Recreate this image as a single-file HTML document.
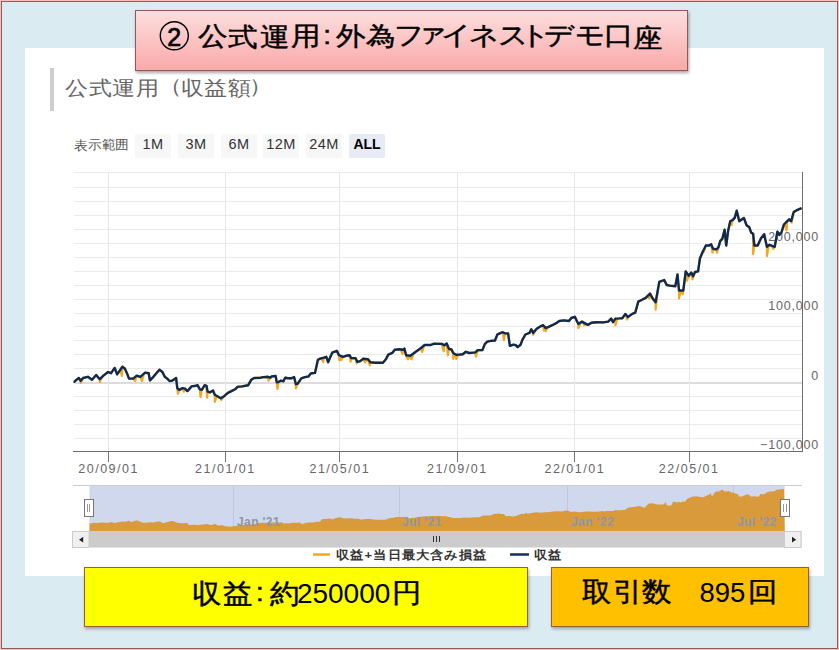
<!DOCTYPE html>
<html><head><meta charset="utf-8">
<style>
html,body{margin:0;padding:0;}
body{width:839px;height:650px;overflow:hidden;position:relative;font-family:"Liberation Sans",sans-serif;}
#frame{position:absolute;left:0;top:0;width:835px;height:646px;background:#daebf1;border:1px solid #8a5c5c;box-shadow:0 0 0 1px #f7c0bc;left:1px;top:1px;}
#panel{position:absolute;left:25px;top:48px;width:799px;height:528px;background:#fff;}
#title{position:absolute;left:135px;top:10px;width:551px;height:59px;border:1px solid #935858;background:linear-gradient(#fddede,#faa9a9);box-shadow:1px 2px 3px rgba(0,0,0,0.35);}
#title span{position:absolute;left:23px;top:9px;font-size:29px;color:#000;white-space:nowrap;}
#hbar{position:absolute;left:50px;top:68px;width:4px;height:43px;background:#cdcdcd;}
#htext{position:absolute;left:66px;top:74px;font-size:22px;color:#666;white-space:nowrap;}
#rlabelx{position:absolute;left:73px;top:136px;font-size:13.5px;color:#666;white-space:nowrap;}
.btn{position:absolute;top:134px;width:36px;height:24px;background:#f7f7f7;font-size:14.5px;color:#333;text-align:center;line-height:21px;border-radius:1px;letter-spacing:0.5px;}
.btn.sel{background:#e6ebf5;font-weight:bold;color:#000;letter-spacing:0;font-size:14px;}
svg{position:absolute;left:0;top:0;}
.ch{position:absolute;line-height:1;white-space:pre;transform-origin:0 0;font-family:"Liberation Sans",sans-serif;}
#ybox{position:absolute;left:84px;top:567px;width:442px;height:58px;background:#ffff00;border:1px solid #985f36;box-shadow:1px 2px 3px rgba(0,0,0,0.3);}
#obox{position:absolute;left:551px;top:567px;width:256px;height:58px;background:#ffc000;border:1px solid #985f36;box-shadow:1px 2px 3px rgba(0,0,0,0.3);}
.bt{position:absolute;top:9px;font-size:29px;color:#000;white-space:nowrap;}
</style></head><body>
<div id="frame"></div>
<div id="panel"></div>
<div id="hbar"></div>
<span class="ch" style="left:65.3px;top:78.0px;font-size:23.5px;font-weight:normal;color:#666;transform:scaleY(0.87);">公</span><span class="ch" style="left:88.5px;top:78.4px;font-size:23.5px;font-weight:normal;color:#666;transform:scaleY(0.87);">式</span><span class="ch" style="left:111.6px;top:78.4px;font-size:23.5px;font-weight:normal;color:#666;transform:scaleY(0.87);">運</span><span class="ch" style="left:136.1px;top:78.0px;font-size:23.5px;font-weight:normal;color:#666;transform:scaleY(0.87);">用</span><span class="ch" style="left:158.9px;top:76.2px;font-size:23.5px;font-weight:normal;color:#666;transform:scaleY(0.87);">（</span><span class="ch" style="left:180.9px;top:78.4px;font-size:23.5px;font-weight:normal;color:#666;transform:scaleY(0.87);">収</span><span class="ch" style="left:204.2px;top:78.0px;font-size:23.5px;font-weight:normal;color:#666;transform:scaleY(0.87);">益</span><span class="ch" style="left:227.6px;top:78.0px;font-size:23.5px;font-weight:normal;color:#666;transform:scaleY(0.87);">額</span><span class="ch" style="left:249.2px;top:76.2px;font-size:23.5px;font-weight:normal;color:#666;transform:scaleY(0.87);">）</span>
<span class="ch" style="left:74.0px;top:138.8px;font-size:14px;font-weight:normal;color:#555;transform:scaleY(0.95);">表</span><span class="ch" style="left:88.0px;top:138.3px;font-size:14px;font-weight:normal;color:#555;transform:scaleY(0.95);">示</span><span class="ch" style="left:101.5px;top:138.3px;font-size:14px;font-weight:normal;color:#555;transform:scaleY(0.95);">範</span><span class="ch" style="left:115.0px;top:138.3px;font-size:14px;font-weight:normal;color:#555;transform:scaleY(0.95);">囲</span>
<span class="ch" style="left:336.2px;top:548.8px;font-size:13px;font-weight:bold;color:#333;letter-spacing:1.2px;transform:scaleY(0.9)">収益+当日最大含み損益</span><span class="ch" style="left:533.6px;top:548.8px;font-size:13px;font-weight:bold;color:#333;letter-spacing:1.2px;transform:scaleY(0.9)">収益</span>
<div class="btn" style="left:135px">1M</div>
<div class="btn" style="left:178px">3M</div>
<div class="btn" style="left:221px">6M</div>
<div class="btn" style="left:263px">12M</div>
<div class="btn" style="left:306px">24M</div>
<div class="btn sel" style="left:349px">ALL</div>
<svg width="839" height="650" viewBox="0 0 839 650">
<g shape-rendering="crispEdges">
<line x1="73.5" y1="438.5" x2="802" y2="438.5" stroke="#ebebeb" stroke-width="1"/><line x1="73.5" y1="424.5" x2="802" y2="424.5" stroke="#ebebeb" stroke-width="1"/><line x1="73.5" y1="410.5" x2="802" y2="410.5" stroke="#ebebeb" stroke-width="1"/><line x1="73.5" y1="396.5" x2="802" y2="396.5" stroke="#ebebeb" stroke-width="1"/><line x1="73.5" y1="382.5" x2="802" y2="382.5" stroke="#dcdcdc" stroke-width="2"/><line x1="73.5" y1="368.5" x2="802" y2="368.5" stroke="#ebebeb" stroke-width="1"/><line x1="73.5" y1="354.5" x2="802" y2="354.5" stroke="#ebebeb" stroke-width="1"/><line x1="73.5" y1="340.5" x2="802" y2="340.5" stroke="#ebebeb" stroke-width="1"/><line x1="73.5" y1="326.5" x2="802" y2="326.5" stroke="#ebebeb" stroke-width="1"/><line x1="73.5" y1="313.5" x2="802" y2="313.5" stroke="#ebebeb" stroke-width="1"/><line x1="73.5" y1="299.5" x2="802" y2="299.5" stroke="#ebebeb" stroke-width="1"/><line x1="73.5" y1="285.5" x2="802" y2="285.5" stroke="#ebebeb" stroke-width="1"/><line x1="73.5" y1="271.5" x2="802" y2="271.5" stroke="#ebebeb" stroke-width="1"/><line x1="73.5" y1="257.5" x2="802" y2="257.5" stroke="#ebebeb" stroke-width="1"/><line x1="73.5" y1="243.5" x2="802" y2="243.5" stroke="#ebebeb" stroke-width="1"/><line x1="73.5" y1="229.5" x2="802" y2="229.5" stroke="#ebebeb" stroke-width="1"/><line x1="73.5" y1="215.5" x2="802" y2="215.5" stroke="#ebebeb" stroke-width="1"/><line x1="73.5" y1="201.5" x2="802" y2="201.5" stroke="#ebebeb" stroke-width="1"/><line x1="73.5" y1="187.5" x2="802" y2="187.5" stroke="#ebebeb" stroke-width="1"/><line x1="73.5" y1="172.5" x2="802" y2="172.5" stroke="#ebebeb" stroke-width="1"/>
<line x1="108.5" y1="172" x2="108.5" y2="451" stroke="#e6e6e6" stroke-width="1"/><line x1="108.5" y1="451" x2="108.5" y2="462" stroke="#777" stroke-width="1"/><line x1="225.5" y1="172" x2="225.5" y2="451" stroke="#e6e6e6" stroke-width="1"/><line x1="225.5" y1="451" x2="225.5" y2="462" stroke="#777" stroke-width="1"/><line x1="339.5" y1="172" x2="339.5" y2="451" stroke="#e6e6e6" stroke-width="1"/><line x1="339.5" y1="451" x2="339.5" y2="462" stroke="#777" stroke-width="1"/><line x1="457.5" y1="172" x2="457.5" y2="451" stroke="#e6e6e6" stroke-width="1"/><line x1="457.5" y1="451" x2="457.5" y2="462" stroke="#777" stroke-width="1"/><line x1="574.5" y1="172" x2="574.5" y2="451" stroke="#e6e6e6" stroke-width="1"/><line x1="574.5" y1="451" x2="574.5" y2="462" stroke="#777" stroke-width="1"/><line x1="689.5" y1="172" x2="689.5" y2="451" stroke="#e6e6e6" stroke-width="1"/><line x1="689.5" y1="451" x2="689.5" y2="462" stroke="#777" stroke-width="1"/>
<line x1="73" y1="451.5" x2="802" y2="451.5" stroke="#6e6e6e" stroke-width="1"/>
<line x1="802.5" y1="172" x2="802.5" y2="452" stroke="#6e6e6e" stroke-width="1"/>
</g>
<g font-family="Liberation Sans" font-size="12.5" fill="#666" letter-spacing="1.5">
<text x="108.6" y="472.5" text-anchor="middle">20/09/01</text><text x="225.4" y="472.5" text-anchor="middle">21/01/01</text><text x="339.8" y="472.5" text-anchor="middle">21/05/01</text><text x="457.3" y="472.5" text-anchor="middle">21/09/01</text><text x="574.8" y="472.5" text-anchor="middle">22/01/01</text><text x="689.2" y="472.5" text-anchor="middle">22/05/01</text>
</g>
<g font-family="Liberation Sans" font-size="12.5" fill="#666" letter-spacing="0.8">
<text x="819" y="241" text-anchor="end">200,000</text>
<text x="819" y="310" text-anchor="end">100,000</text>
<text x="819" y="380" text-anchor="end">0</text>
<text x="819" y="449" text-anchor="end">&#8722;100,000</text>
</g>
<path d="M73.6 382.0 L74.2 381.9 L77.2 379.2 L78.9 378.0 L78.9 378.5 L80.7 380.8 L80.7 383.0 L82.5 379.2 L83.1 378.0 L87.9 376.8 L92.0 379.8 L96.2 375.0 L98.0 377.6 L99.8 379.2 L99.8 382.0 L101.6 377.9 L103.4 375.6 L108.1 372.0 L111.1 373.2 L114.7 367.9 L117.1 374.4 L120.2 370.4 L122.0 376.0 L122.4 366.7 L123.8 368.2 L124.8 368.5 L127.2 373.8 L129.0 378.6 L133.2 378.6 L133.2 379.1 L135.0 381.0 L136.7 375.6 L136.8 376.1 L140.2 377.3 L140.3 376.8 L142.0 381.0 L143.8 374.2 L145.1 372.6 L148.7 373.2 L149.9 380.4 L153.4 376.8 L159.4 369.7 L162.4 372.0 L164.8 376.8 L167.2 378.6 L169.5 381.0 L171.9 380.8 L174.3 379.2 L176.1 378.0 L176.1 378.5 L177.3 388.1 L177.9 394.0 L179.1 389.9 L179.7 390.1 L182.0 388.9 L182.6 388.1 L183.8 391.7 L185.0 388.7 L185.6 389.8 L187.4 391.1 L191.6 386.4 L195.8 385.8 L197.5 385.2 L198.7 387.8 L199.9 389.3 L200.5 397.0 L201.7 389.9 L202.3 389.5 L204.7 385.2 L205.2 385.9 L206.5 385.8 L207.0 397.7 L207.7 391.7 L208.8 392.5 L210.1 392.3 L213.0 390.5 L213.0 391.0 L214.8 394.7 L214.8 401.8 L216.6 396.3 L217.8 396.5 L219.6 398.1 L220.8 398.3 L221.4 400.0 L223.2 397.2 L224.4 395.9 L227.9 392.9 L231.5 391.1 L235.1 389.3 L237.5 386.9 L242.2 386.4 L248.2 385.2 L251.2 379.8 L254.2 378.0 L260.7 377.7 L263.1 377.1 L266.7 377.4 L267.9 376.8 L268.5 380.7 L270.3 377.7 L270.3 378.2 L271.5 376.5 L275.6 376.4 L275.6 375.9 L276.8 382.4 L277.4 389.0 L278.6 381.8 L279.2 382.0 L281.0 380.7 L283.4 381.3 L285.2 377.7 L288.1 378.3 L291.1 378.3 L294.1 377.6 L294.1 377.1 L295.9 384.2 L295.9 388.4 L297.7 383.6 L297.7 384.1 L301.3 378.3 L304.8 377.1 L308.4 376.5 L310.8 373.5 L315.0 372.9 L317.9 359.8 L320.3 358.6 L321.5 358.8 L323.3 362.0 L323.9 357.7 L325.1 357.8 L326.3 356.8 L328.1 362.2 L332.2 352.6 L337.0 350.9 L337.6 352.8 L338.8 355.0 L339.4 360.4 L339.4 355.8 L341.2 356.5 L341.2 360.0 L343.0 356.8 L343.0 357.3 L346.0 355.8 L348.9 355.8 L349.5 355.2 L350.7 361.7 L351.3 358.1 L352.5 358.6 L354.9 358.6 L355.5 358.1 L356.7 363.5 L357.3 361.7 L358.5 362.0 L360.3 361.1 L363.2 358.7 L363.2 359.2 L365.0 362.3 L366.8 359.7 L368.0 359.3 L368.0 359.8 L369.8 365.3 L370.4 362.3 L371.6 362.9 L375.8 362.7 L382.9 362.7 L385.9 359.3 L388.3 354.6 L392.4 352.8 L394.8 349.8 L399.6 349.2 L400.8 349.9 L402.6 354.0 L403.2 349.8 L404.4 348.6 L404.4 349.1 L406.1 355.2 L406.2 355.7 L408.0 359.3 L409.7 356.2 L409.8 356.2 L410.3 355.8 L411.5 359.3 L413.3 354.1 L415.1 352.2 L420.4 348.9 L421.0 348.0 L422.2 352.2 L424.0 346.0 L424.6 345.0 L430.6 345.0 L433.6 343.8 L441.9 343.9 L441.9 344.4 L443.7 351.3 L444.3 345.3 L445.5 344.9 L446.1 344.5 L446.7 343.5 L447.9 355.4 L449.1 348.9 L449.7 349.5 L451.4 350.0 L451.5 349.5 L453.2 353.0 L453.2 359.0 L454.4 354.2 L455.0 354.6 L456.2 354.8 L456.2 359.0 L458.0 355.2 L459.8 354.6 L462.8 354.2 L465.8 351.8 L469.3 353.0 L474.1 353.0 L475.3 352.4 L475.9 356.6 L477.7 350.1 L477.7 350.6 L482.4 350.1 L484.8 344.1 L487.2 341.7 L490.8 340.9 L495.0 340.5 L497.3 334.6 L500.3 333.1 L502.1 332.9 L502.7 332.2 L503.9 340.0 L505.1 333.4 L505.7 333.9 L508.1 333.4 L509.9 345.9 L513.4 344.7 L515.8 345.1 L517.6 347.1 L520.6 344.7 L522.4 339.9 L525.4 334.5 L529.5 332.9 L531.3 329.3 L531.3 329.8 L533.1 332.9 L533.1 334.7 L534.9 331.3 L536.7 328.7 L540.3 326.4 L542.0 326.2 L543.2 325.2 L543.8 330.5 L543.8 326.4 L545.6 328.6 L545.6 328.1 L545.6 331.1 L547.4 327.9 L548.6 326.9 L552.2 325.2 L555.8 323.4 L559.3 321.0 L564.1 320.4 L568.9 321.0 L571.3 318.0 L574.8 316.8 L576.6 320.9 L578.4 324.0 L578.4 328.1 L580.2 323.3 L582.0 321.6 L582.6 322.5 L584.4 325.2 L585.0 323.4 L586.2 324.5 L587.9 324.9 L591.5 322.8 L596.3 322.2 L603.4 322.4 L608.2 321.6 L611.2 318.6 L613.0 322.2 L613.6 321.8 L615.4 318.6 L615.4 325.2 L617.2 319.0 L619.5 318.4 L622.3 318.2 L625.4 313.9 L625.4 314.4 L627.2 319.5 L627.9 317.0 L629.0 316.7 L632.2 313.9 L635.2 312.7 L638.3 301.6 L642.0 299.7 L645.7 297.9 L647.6 296.5 L649.4 298.5 L650.0 293.6 L651.2 296.2 L653.1 299.1 L653.8 300.5 L655.6 302.2 L655.6 309.6 L657.4 292.8 L659.3 281.9 L664.2 280.0 L666.7 285.0 L669.7 285.6 L675.3 286.2 L677.2 276.6 L677.5 274.5 L679.0 290.5 L679.0 298.5 L680.8 291.0 L680.9 291.0 L682.7 294.2 L683.3 290.5 L684.5 281.4 L685.2 275.9 L685.7 271.4 L687.0 280.6 L688.8 275.7 L688.8 276.2 L690.7 273.8 L691.3 272.6 L692.5 279.4 L693.1 276.3 L694.3 274.1 L695.0 272.0 L698.1 271.4 L699.9 258.5 L701.8 254.4 L702.6 252.0 L703.6 252.3 L705.4 247.0 L705.9 245.5 L709.2 245.5 L710.7 245.0 L711.1 244.2 L712.5 252.7 L713.1 248.8 L714.3 249.5 L715.2 249.7 L716.4 249.4 L717.0 252.7 L718.4 247.4 L718.8 246.5 L720.3 240.9 L722.3 238.9 L724.6 229.7 L726.2 245.5 L728.2 230.4 L729.7 224.0 L730.2 221.2 L731.5 225.2 L732.8 219.9 L733.3 219.9 L734.7 217.9 L736.7 210.7 L739.3 221.2 L742.0 219.3 L743.9 218.0 L746.5 225.2 L749.2 227.1 L751.1 232.4 L751.3 233.0 L753.1 233.7 L753.1 254.0 L754.4 245.5 L754.9 246.0 L757.7 245.5 L761.0 238.3 L764.2 234.3 L765.1 239.0 L766.9 246.8 L766.9 256.0 L768.7 245.9 L769.5 244.8 L771.6 246.1 L773.4 248.8 L774.7 246.8 L775.2 244.5 L777.4 231.7 L779.3 235.0 L781.3 233.0 L783.9 224.5 L784.7 224.2 L786.5 230.4 L787.2 221.2 L788.3 220.7 L789.2 219.3 L790.0 220.6 L791.1 221.2 L791.8 222.5 L793.6 212.9 L793.7 212.0 L797.0 210.1 L801.6 208.1" fill="none" stroke="#f5a623" stroke-width="2.2" stroke-linejoin="round"/>
<path d="M73.6 382.0 L74.2 381.9 L77.2 379.2 L78.9 378.0 L80.7 380.8 L83.1 378.0 L87.9 376.8 L92.0 379.8 L96.2 375.0 L99.8 379.2 L103.4 375.6 L108.1 372.0 L111.1 373.2 L114.7 367.9 L117.1 374.4 L122.4 366.7 L124.8 368.5 L127.2 373.8 L129.0 378.6 L133.2 378.6 L136.7 375.6 L140.3 376.8 L145.1 372.6 L148.7 373.2 L149.9 380.4 L153.4 376.8 L159.4 369.7 L162.4 372.0 L164.8 376.8 L167.2 378.6 L169.5 381.0 L171.9 380.8 L174.3 379.2 L176.1 378.0 L177.3 388.1 L179.1 389.9 L182.6 388.1 L185.0 388.7 L187.4 391.1 L191.6 386.4 L195.8 385.8 L197.5 385.2 L199.9 389.3 L201.7 389.9 L204.7 385.2 L206.5 385.8 L207.7 391.7 L210.1 392.3 L213.0 390.5 L214.8 394.7 L217.8 396.5 L220.8 398.3 L224.4 395.9 L227.9 392.9 L231.5 391.1 L235.1 389.3 L237.5 386.9 L242.2 386.4 L248.2 385.2 L251.2 379.8 L254.2 378.0 L260.7 377.7 L263.1 377.1 L267.9 376.8 L270.3 377.7 L271.5 376.5 L275.6 375.9 L276.8 382.4 L278.6 381.8 L281.0 380.7 L283.4 381.3 L285.2 377.7 L288.1 378.3 L291.1 378.3 L294.1 377.1 L295.9 384.2 L297.7 383.6 L301.3 378.3 L304.8 377.1 L308.4 376.5 L310.8 373.5 L315.0 372.9 L317.9 359.8 L320.3 358.6 L323.9 357.7 L326.3 356.8 L328.1 362.2 L332.2 352.6 L337.0 350.9 L338.8 355.0 L343.0 356.8 L346.0 355.8 L349.5 355.2 L351.3 358.1 L355.5 358.1 L357.3 361.7 L360.3 361.1 L363.2 358.7 L368.0 359.3 L370.4 362.3 L375.8 362.7 L382.9 362.7 L385.9 359.3 L388.3 354.6 L392.4 352.8 L394.8 349.8 L399.6 349.2 L403.2 349.8 L404.4 348.6 L406.1 355.2 L410.3 355.8 L415.1 352.2 L421.0 348.0 L424.6 345.0 L430.6 345.0 L433.6 343.8 L441.9 343.9 L444.3 345.3 L446.7 343.5 L449.1 348.9 L451.5 349.5 L453.2 353.0 L456.2 354.8 L459.8 354.6 L462.8 354.2 L465.8 351.8 L469.3 353.0 L475.3 352.4 L477.7 350.1 L482.4 350.1 L484.8 344.1 L487.2 341.7 L490.8 340.9 L495.0 340.5 L497.3 334.6 L500.3 333.1 L502.7 332.2 L505.1 333.4 L508.1 333.4 L509.9 345.9 L513.4 344.7 L515.8 345.1 L517.6 347.1 L520.6 344.7 L522.4 339.9 L525.4 334.5 L529.5 332.9 L531.3 329.3 L533.1 332.9 L536.7 328.7 L540.3 326.4 L543.2 325.2 L545.6 328.1 L548.6 326.9 L552.2 325.2 L555.8 323.4 L559.3 321.0 L564.1 320.4 L568.9 321.0 L571.3 318.0 L574.8 316.8 L578.4 324.0 L582.0 321.6 L585.0 323.4 L587.9 324.9 L591.5 322.8 L596.3 322.2 L603.4 322.4 L608.2 321.6 L611.2 318.6 L613.0 322.2 L615.4 318.6 L619.5 318.4 L622.3 318.2 L625.4 313.9 L627.9 317.0 L632.2 313.9 L635.2 312.7 L638.3 301.6 L642.0 299.7 L645.7 297.9 L650.0 293.6 L653.1 299.1 L655.6 302.2 L659.3 281.9 L664.2 280.0 L666.7 285.0 L669.7 285.6 L675.3 286.2 L677.5 274.5 L679.0 290.5 L683.3 290.5 L685.7 271.4 L688.8 275.7 L691.3 272.6 L693.1 276.3 L695.0 272.0 L698.1 271.4 L699.9 258.5 L702.6 252.0 L705.9 245.5 L709.2 245.5 L711.1 244.2 L713.1 248.8 L716.4 249.4 L718.4 247.4 L720.3 240.9 L722.3 238.9 L724.6 229.7 L726.2 245.5 L728.2 230.4 L730.2 221.2 L732.8 219.9 L734.7 217.9 L736.7 210.7 L739.3 221.2 L742.0 219.3 L743.9 218.0 L746.5 225.2 L749.2 227.1 L751.1 232.4 L753.1 233.7 L754.4 245.5 L757.7 245.5 L761.0 238.3 L764.2 234.3 L766.9 246.8 L769.5 244.8 L774.7 246.8 L777.4 231.7 L779.3 235.0 L781.3 233.0 L783.9 224.5 L787.2 221.2 L789.2 219.3 L791.1 221.2 L793.7 212.0 L797.0 210.1 L801.6 208.1" fill="none" stroke="#0f2a4f" stroke-width="2.4" stroke-linejoin="round"/>
<!-- navigator -->
<rect x="89.5" y="486" width="695.2" height="45" fill="#cfd8ec"/>
<g shape-rendering="crispEdges">
<line x1="233.5" y1="486" x2="233.5" y2="531" stroke="#c0c7da"/>
<line x1="399.5" y1="486" x2="399.5" y2="531" stroke="#c0c7da"/>
<line x1="567.5" y1="486" x2="567.5" y2="531" stroke="#c0c7da"/>
<line x1="733.5" y1="486" x2="733.5" y2="531" stroke="#c0c7da"/>
<line x1="73" y1="485.5" x2="801.5" y2="485.5" stroke="#cccccc"/>
</g>
<path d="M89.5 531 L89.5 523.5 L90.1 523.5 L92.9 523.0 L94.6 522.7 L96.3 523.3 L98.6 522.7 L103.1 522.5 L107.1 523.1 L111.1 522.1 L114.5 523.0 L117.9 522.2 L122.4 521.5 L125.3 521.8 L128.7 520.7 L131.0 522.0 L136.1 520.5 L138.3 520.8 L140.6 521.9 L142.4 522.8 L146.4 522.8 L149.7 522.2 L153.1 522.5 L157.7 521.6 L161.1 521.8 L162.3 523.2 L165.6 522.5 L171.4 521.1 L174.2 521.5 L176.5 522.5 L178.8 522.8 L181.0 523.3 L183.3 523.3 L185.6 523.0 L187.3 522.7 L188.4 524.7 L190.1 525.1 L193.5 524.7 L195.8 524.8 L198.1 525.3 L202.1 524.4 L206.1 524.3 L207.7 524.1 L210.0 525.0 L211.7 525.1 L214.6 524.1 L216.3 524.3 L217.4 525.4 L219.7 525.6 L222.5 525.2 L224.2 526.0 L227.1 526.4 L229.9 526.7 L233.4 526.3 L236.7 525.7 L240.1 525.3 L243.6 525.0 L245.9 524.5 L250.3 524.4 L256.1 524.1 L258.9 523.1 L261.8 522.7 L268.0 522.7 L270.3 522.5 L274.9 522.5 L277.2 522.7 L278.3 522.4 L282.2 522.3 L283.4 523.6 L285.1 523.5 L287.4 523.2 L289.6 523.4 L291.4 522.7 L294.1 522.8 L297.0 522.8 L299.9 522.5 L301.6 523.9 L303.3 523.8 L306.7 522.8 L310.1 522.5 L313.5 522.4 L315.8 521.8 L319.8 521.7 L322.6 519.1 L324.9 518.9 L328.3 518.7 L330.6 518.5 L332.3 519.6 L336.2 517.7 L340.8 517.3 L342.5 518.2 L346.5 518.5 L349.4 518.3 L352.7 518.2 L354.4 518.8 L358.4 518.8 L360.1 519.5 L363.0 519.4 L365.8 518.9 L370.4 519.0 L372.6 519.6 L377.8 519.7 L384.6 519.7 L387.4 519.0 L389.7 518.1 L393.6 517.7 L395.9 517.1 L400.5 517.0 L403.9 517.1 L405.1 516.9 L406.7 518.2 L410.7 518.3 L415.3 517.6 L420.9 516.8 L424.4 516.2 L430.1 516.2 L432.9 515.9 L440.9 516.0 L443.1 516.2 L445.4 515.9 L447.7 516.9 L450.0 517.1 L451.6 517.8 L454.5 518.1 L457.9 518.1 L460.8 518.0 L463.7 517.5 L467.0 517.8 L472.7 517.6 L475.0 517.2 L479.5 517.2 L481.8 516.0 L484.1 515.5 L487.5 515.4 L491.5 515.3 L493.7 514.1 L496.6 513.8 L498.9 513.6 L501.2 513.9 L504.0 513.9 L505.7 516.3 L509.1 516.1 L511.4 516.2 L513.1 516.6 L515.9 516.1 L517.7 515.2 L520.5 514.1 L524.4 513.8 L526.1 513.1 L527.9 513.8 L531.3 512.9 L534.7 512.5 L537.5 512.2 L539.8 512.8 L542.6 512.6 L546.1 512.2 L549.5 511.9 L552.9 511.4 L557.4 511.3 L562.0 511.4 L564.3 510.8 L567.6 510.6 L571.1 512.0 L574.5 511.5 L577.4 511.9 L580.1 512.2 L583.6 511.8 L588.2 511.6 L594.9 511.7 L599.5 511.5 L602.4 510.9 L604.1 511.6 L606.4 510.9 L610.3 510.9 L613.0 510.9 L615.9 510.0 L618.3 510.6 L622.4 510.0 L625.3 509.8 L628.2 507.6 L631.8 507.2 L635.3 506.8 L639.4 506.0 L642.3 507.1 L644.7 507.7 L648.3 503.7 L652.9 503.3 L655.3 504.3 L658.2 504.4 L663.5 504.5 L665.6 502.2 L667.1 505.4 L671.2 505.4 L673.4 501.6 L676.4 502.4 L678.8 501.8 L680.5 502.5 L682.3 501.7 L685.3 501.6 L687.0 499.0 L689.6 497.7 L692.7 496.4 L695.9 496.4 L697.7 496.2 L699.6 497.1 L702.7 497.2 L704.6 496.8 L706.5 495.5 L708.4 495.1 L710.6 493.3 L712.1 496.4 L714.0 493.4 L715.9 491.6 L718.4 491.4 L720.2 491.0 L722.1 489.5 L724.6 491.6 L727.2 491.2 L729.0 491.0 L731.4 492.4 L734.0 492.8 L735.8 493.8 L737.7 494.1 L739.0 496.4 L742.1 496.4 L745.3 495.0 L748.3 494.2 L750.9 496.7 L753.4 496.3 L758.3 496.7 L760.9 493.7 L762.7 494.4 L764.6 494.0 L767.1 492.3 L770.3 491.6 L772.2 491.2 L774.0 491.6 L776.5 489.8 L779.6 489.4 L784.0 489.0 L784.7 531 Z" fill="#d89a3a"/>
<g font-family="Liberation Sans" font-size="12" font-weight="bold" fill="#8f96a6" letter-spacing="0.4">
<text x="237" y="526">Jan '21</text>
<text x="402" y="526">Jul '21</text>
<text x="571" y="526">Jan '22</text>
<text x="737" y="526">Jul '22</text>
</g>
<!-- scrollbar -->
<rect x="72.5" y="531" width="729" height="16.5" fill="#cccccc"/>
<rect x="72.5" y="531.5" width="16.5" height="16" fill="#f0f0f0" stroke="#cccccc"/>
<rect x="784.5" y="531.5" width="16.5" height="16" fill="#f0f0f0" stroke="#cccccc"/>
<path d="M79 539.7 L83.2 536.8 L83.2 542.6 Z" fill="#222"/>
<path d="M796.2 539.7 L792 536.8 L792 542.6 Z" fill="#222"/>
<g stroke="#333" stroke-width="1" shape-rendering="crispEdges">
<line x1="433.5" y1="536" x2="433.5" y2="542"/><line x1="436.5" y1="536" x2="436.5" y2="542"/><line x1="439.5" y1="536" x2="439.5" y2="542"/>
</g>
<!-- handles -->
<rect x="84.5" y="499.5" width="9" height="17" fill="#fff" stroke="#777"/>
<g shape-rendering="crispEdges"><line x1="87.5" y1="504" x2="87.5" y2="512" stroke="#999"/><line x1="89.5" y1="504" x2="89.5" y2="512" stroke="#999"/></g>
<rect x="780.5" y="499.5" width="9" height="17" fill="#fff" stroke="#777"/>
<g shape-rendering="crispEdges"><line x1="783.5" y1="504" x2="783.5" y2="512" stroke="#999"/><line x1="786.5" y1="504" x2="786.5" y2="512" stroke="#999"/></g>
<!-- legend -->
<line x1="313" y1="554.5" x2="330" y2="554.5" stroke="#f5a623" stroke-width="2.5"/>

<line x1="510" y1="554.5" x2="529" y2="554.5" stroke="#12325a" stroke-width="2.5"/>

</svg>
<div id="title"></div>
<svg width="839" height="650" style="position:absolute;left:0;top:0"><circle cx="174.3" cy="35.75" r="14" fill="none" stroke="#000" stroke-width="1.4"/><text x="174.3" y="45.5" text-anchor="middle" font-family="Liberation Sans" font-size="25" fill="#000" stroke="#000" stroke-width="0.7">2</text></svg><span class="ch" style="left:197.9px;top:23.2px;font-size:29.5px;font-weight:normal;color:#000;transform:scaleY(0.88);-webkit-text-stroke:0.5px #000;">公</span><span class="ch" style="left:228.0px;top:23.7px;font-size:29.5px;font-weight:normal;color:#000;transform:scaleY(0.88);-webkit-text-stroke:0.5px #000;">式</span><span class="ch" style="left:260.0px;top:23.7px;font-size:29.5px;font-weight:normal;color:#000;transform:scaleY(0.88);-webkit-text-stroke:0.5px #000;">運</span><span class="ch" style="left:290.5px;top:22.8px;font-size:29.5px;font-weight:normal;color:#000;transform:scaleY(0.88);-webkit-text-stroke:0.5px #000;">用</span><span class="ch" style="left:322.9px;top:21.5px;font-size:29.5px;font-weight:normal;color:#000;transform:scaleY(0.88);-webkit-text-stroke:0.5px #000;">:</span><span class="ch" style="left:335.5px;top:23.2px;font-size:29.5px;font-weight:normal;color:#000;transform:scaleY(0.88);-webkit-text-stroke:0.5px #000;">外</span><span class="ch" style="left:366.4px;top:23.2px;font-size:29.5px;font-weight:normal;color:#000;transform:scaleY(0.88);-webkit-text-stroke:0.5px #000;">為</span><span class="ch" style="left:394.3px;top:21.9px;font-size:29.5px;font-weight:normal;color:#000;transform:scaleY(0.88);-webkit-text-stroke:0.5px #000;">フ</span><span class="ch" style="left:416.9px;top:20.2px;font-size:29.5px;font-weight:normal;color:#000;transform:scaleY(0.88);-webkit-text-stroke:0.5px #000;">ァ</span><span class="ch" style="left:441.1px;top:22.4px;font-size:29.5px;font-weight:normal;color:#000;transform:scaleY(0.88);-webkit-text-stroke:0.5px #000;">イ</span><span class="ch" style="left:468.9px;top:22.4px;font-size:29.5px;font-weight:normal;color:#000;transform:scaleY(0.88);-webkit-text-stroke:0.5px #000;">ネ</span><span class="ch" style="left:497.9px;top:22.4px;font-size:29.5px;font-weight:normal;color:#000;transform:scaleY(0.88);-webkit-text-stroke:0.5px #000;">ス</span><span class="ch" style="left:520.0px;top:21.9px;font-size:29.5px;font-weight:normal;color:#000;transform:scaleY(0.88);-webkit-text-stroke:0.5px #000;">ト</span><span class="ch" style="left:544.4px;top:22.4px;font-size:29.5px;font-weight:normal;color:#000;transform:scaleY(0.88);-webkit-text-stroke:0.5px #000;">デ</span><span class="ch" style="left:574.5px;top:22.4px;font-size:29.5px;font-weight:normal;color:#000;transform:scaleY(0.88);-webkit-text-stroke:0.5px #000;">モ</span><span class="ch" style="left:603.8px;top:21.9px;font-size:29.5px;font-weight:normal;color:#000;transform:scaleY(0.88);-webkit-text-stroke:0.5px #000;">口</span><span class="ch" style="left:633.2px;top:24.6px;font-size:29.5px;font-weight:normal;color:#000;transform:scaleY(0.88);-webkit-text-stroke:0.5px #000;">座</span>
<div id="ybox"></div>
<span class="ch" style="left:191.8px;top:581.1px;font-size:29px;font-weight:normal;color:#000;transform:scaleY(0.92);-webkit-text-stroke:0.5px #000;">収</span><span class="ch" style="left:222.5px;top:581.1px;font-size:29px;font-weight:normal;color:#000;transform:scaleY(0.92);-webkit-text-stroke:0.5px #000;">益</span><span class="ch" style="left:255.7px;top:579.2px;font-size:29px;font-weight:normal;color:#000;transform:scaleY(0.92);-webkit-text-stroke:0.5px #000;">:</span><span class="ch" style="left:270.0px;top:580.6px;font-size:29px;font-weight:normal;color:#000;transform:scaleY(0.92);-webkit-text-stroke:0.5px #000;">約</span><span class="ch" style="left:391.8px;top:580.0px;font-size:29px;font-weight:normal;color:#000;transform:scaleY(0.92);-webkit-text-stroke:0.5px #000;">円</span>
<span class="ch" style="left:296.9px;top:579.6px;font-size:28px;color:#000">250000</span>
<div id="obox"></div>
<span class="ch" style="left:582.2px;top:579.1px;font-size:29px;font-weight:normal;color:#000;transform:scaleY(0.92);-webkit-text-stroke:0.5px #000;">取</span><span class="ch" style="left:613.1px;top:579.1px;font-size:29px;font-weight:normal;color:#000;transform:scaleY(0.92);-webkit-text-stroke:0.5px #000;">引</span><span class="ch" style="left:641.7px;top:579.1px;font-size:29px;font-weight:normal;color:#000;transform:scaleY(0.92);-webkit-text-stroke:0.5px #000;">数</span><span class="ch" style="left:747.8px;top:579.3px;font-size:29px;font-weight:normal;color:#000;transform:scaleY(0.92);-webkit-text-stroke:0.5px #000;">回</span>
<span class="ch" style="left:699.5px;top:579.1px;font-size:27.5px;color:#000">895</span>
</body></html>
